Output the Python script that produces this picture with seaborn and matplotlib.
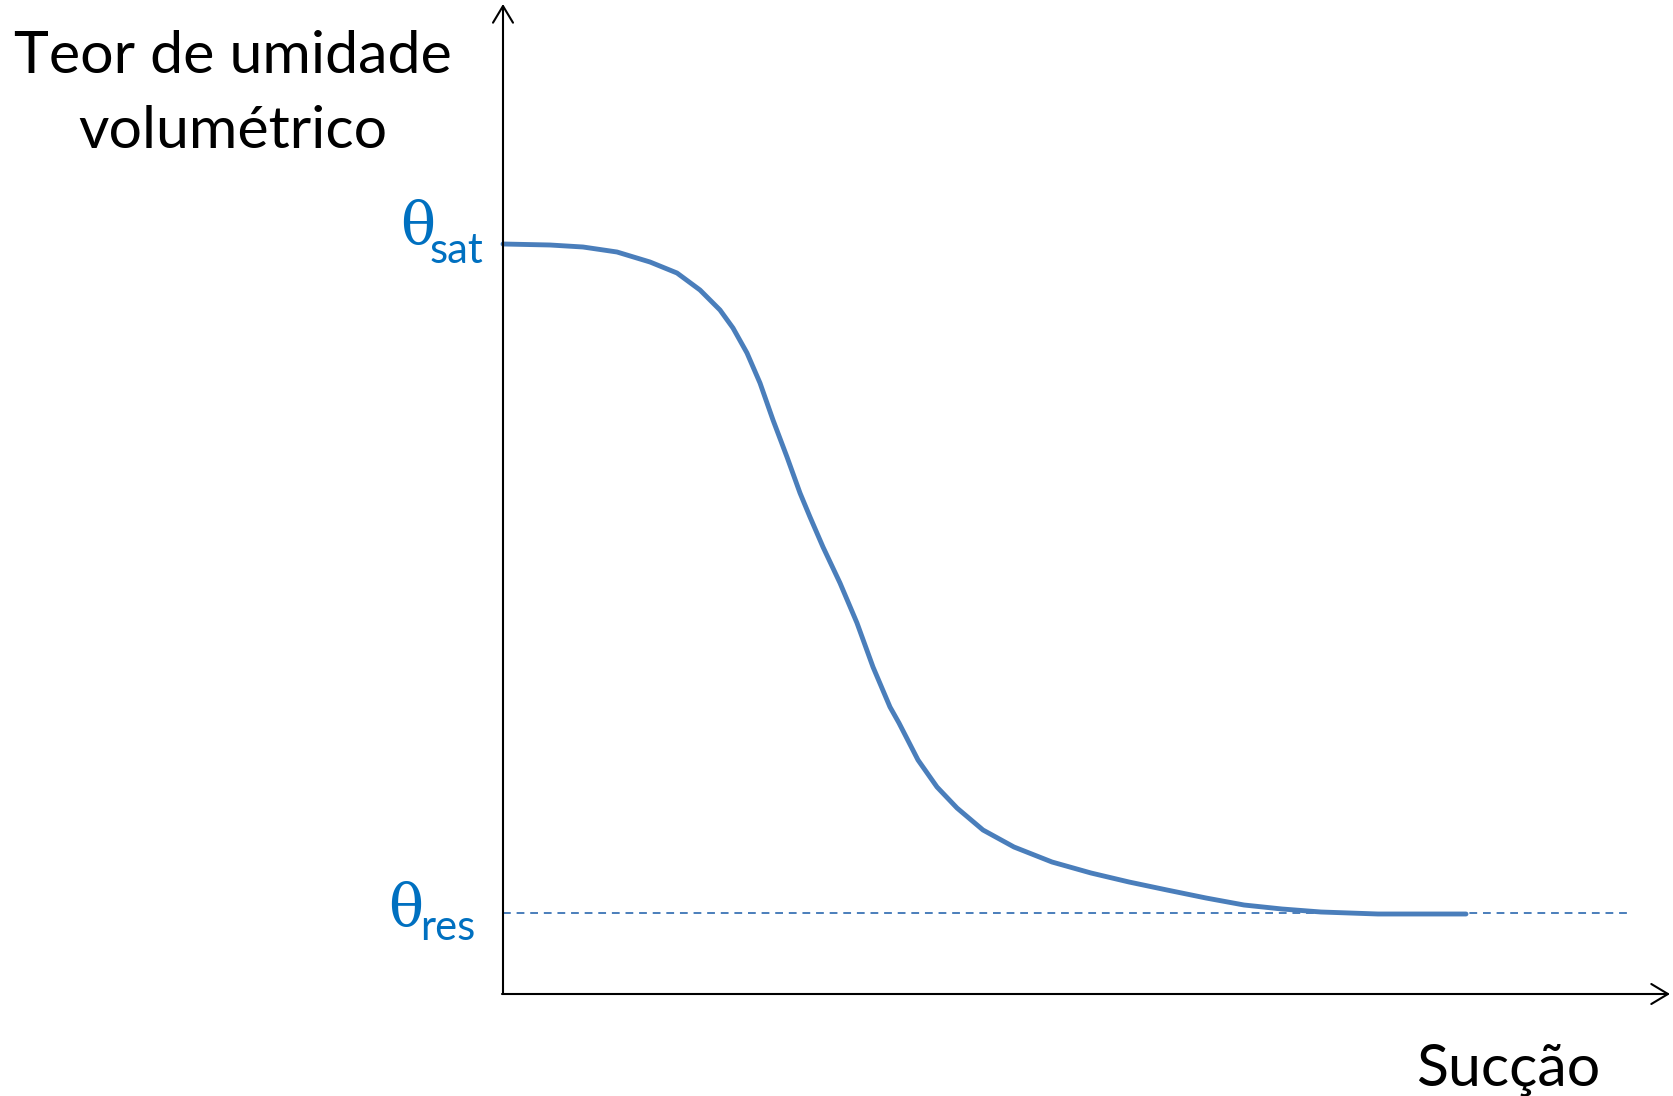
import numpy as np
import pandas as pd
import seaborn as sns
import matplotlib.pyplot as plt

sns.set_theme(style='white')
plt.rcParams['font.family'] = ['Lato', 'DejaVu Sans']

# curva de retenção (unidades arbitrárias)
succao = [0.00, 0.47, 0.80, 1.14, 1.47, 1.74, 1.97, 2.17, 2.30, 2.44, 2.57, 2.70, 2.84,
          2.97, 3.07, 3.20, 3.37, 3.54, 3.70, 3.87, 3.96, 4.15, 4.34, 4.54, 4.80, 5.11,
          5.49, 5.88, 6.26, 6.64, 7.03, 7.41, 7.79, 8.18, 8.75, 9.63]
teor = [7.50, 7.49, 7.47, 7.42, 7.32, 7.21, 7.04, 6.84, 6.66, 6.41, 6.11, 5.74, 5.37,
        5.01, 4.77, 4.47, 4.11, 3.71, 3.27, 2.87, 2.71, 2.34, 2.07, 1.86, 1.64, 1.47,
        1.32, 1.21, 1.12, 1.04, 0.96, 0.89, 0.85, 0.82, 0.80, 0.80]
theta_sat = 7.50
theta_res = 0.81
res_line_x = [0.0, 11.25]

curva = pd.DataFrame({'succao': succao, 'teor': teor})
residual = pd.DataFrame({'succao': res_line_x, 'teor': [theta_res] * 2})

fig = plt.figure(figsize=(16.74, 10.96), dpi=100)
ax = fig.add_axes([0, 0, 1, 1])
ax.set_xlim(-5.03, 11.71)
ax.set_ylim(-1.02, 9.94)
ax.axis('off')

blue = '#4A7EBB'
sns.lineplot(data=residual, x='succao', y='teor', ax=ax, color=blue, lw=1.4,
             dashes=False, linestyle=(0, (4, 3)), zorder=2)
sns.lineplot(data=curva, x='succao', y='teor', ax=ax, color=blue, lw=3.5,
             sort=False, zorder=3, solid_joinstyle='round')

# eixos com setas
arrow = dict(arrowstyle='->,head_width=0.36,head_length=0.6', lw=1.5, color='black',
             mutation_scale=20, shrinkA=0, shrinkB=0)
ax.annotate('', xy=(0, 9.90), xytext=(0, 0), arrowprops=arrow)
ax.annotate('', xy=(11.67, 0), xytext=(-0.01, 0), arrowprops=arrow)

ax.text(-2.70, 9.64, 'Teor de umidade\nvolumétrico', ha='center', va='top',
        fontsize=42.5, color='black', linespacing=1.52)
ax.text(10.05, -0.91, 'Sucção', ha='center', va='baseline', fontsize=42.5, color='black')

label_blue = '#0070C0'
serif = ['DejaVu Serif']
ax.text(-0.68, theta_sat + 0.01, 'θ', ha='right', va='baseline', fontsize=42,
        color=label_blue, family=serif)
ax.text(-0.20, theta_sat - 0.19, 'sat', ha='right', va='baseline', fontsize=30,
        color=label_blue)
ax.text(-0.80, theta_res - 0.12, 'θ', ha='right', va='baseline', fontsize=42,
        color=label_blue, family=serif)
ax.text(-0.28, theta_res - 0.27, 'res', ha='right', va='baseline', fontsize=30,
        color=label_blue)

plt.savefig('out.png', dpi=100)
